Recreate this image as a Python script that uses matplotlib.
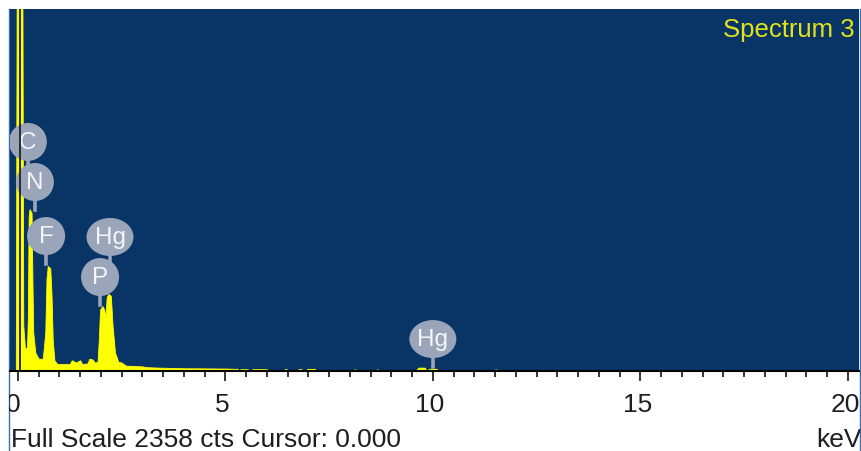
import matplotlib
matplotlib.use("Agg")
import matplotlib.pyplot as plt
from matplotlib.patches import Ellipse
from matplotlib.lines import Line2D
from matplotlib import transforms

plt.rcParams['font.family'] = ['Liberation Sans', 'DejaVu Sans']

# spectrum (keV, counts)
energy = [-0.2, -0.05, -0.03, 0.11, 0.13, 0.17, 0.22, 0.24, 0.26, 0.28, 0.33, 0.35, 0.37,
          0.42, 0.5, 0.6, 0.66, 0.69, 0.72, 0.78, 0.81, 0.84, 0.88, 0.95, 1.0, 1.25,
          1.3, 1.4, 1.5, 1.55, 1.68, 1.72, 1.8, 1.85, 1.92, 1.95, 1.98, 2.04, 2.08,
          2.11, 2.14, 2.18, 2.24, 2.28, 2.34, 2.42, 2.5, 2.6, 3.0, 3.1, 3.4, 4.0,
          5.0, 5.3, 5.32,
          5.35, 5.36, 5.54, 5.55, 5.64, 5.65, 6.0, 6.01, 6.42, 6.43, 6.48, 6.49,
          6.75, 6.76, 6.84, 6.85, 6.96, 6.97, 7.16, 7.17, 8.08, 8.1, 8.14, 8.16,
          8.62, 8.64, 8.68, 8.7, 9.58, 9.65, 9.8, 9.86, 9.88, 9.9, 10.1, 10.12,
          11.48, 11.5, 11.54, 11.56, 20.3]
counts = [0, 0, 2358, 2358, 300, 150, 150, 350, 1000, 1055, 1030, 600, 250,
          120, 80, 80, 250, 600, 684, 670, 500, 200, 70, 45, 45, 45,
          70, 55, 70, 45, 50, 80, 75, 55, 60, 200, 400, 423, 400,
          350, 480, 502, 490, 300, 120, 60, 55, 35, 30, 25, 22, 18,
          16, 14, 0,
          0, 12, 12, 0, 0, 12, 12, 0, 0, 12, 12, 0,
          0, 12, 12, 0, 0, 14, 14, 0, 0, 10, 10, 0,
          0, 10, 10, 0, 0, 22, 22, 0, 0, 14, 14, 0,
          0, 10, 10, 0, 0]

# element markers: label, energy, counts of bubble centre, bubble width (px)
peak_labels = ['C', 'N', 'F', 'Hg', 'P', 'Hg']
label_x = [0.24, 0.41, 0.68, 2.22, 1.98, 10.0]
label_y = [1492, 1231, 879, 873, 612, 208]
label_w = [38, 38, 38, 47, 38, 47]

tick_pos = [0, 5, 10, 15, 20]
tick_text = ['0', '5', '10', '15', '20']
tick_shift = [-0.12, -0.07, -0.07, -0.07, -0.07]
full_scale = 2358
cursor = 0.05

W, H = 861, 452
fig = plt.figure(figsize=(W / 100, H / 100), dpi=100)

# white panel with thin frame lines
panel = fig.add_axes([9 / W, 0, 851 / W, 442 / H])
panel.set_facecolor('white')
panel.set_xticks([])
panel.set_yticks([])
for s in ['top', 'bottom']:
    panel.spines[s].set_visible(False)
for s in ['left', 'right']:
    panel.spines[s].set_color('#3f6eae')
    panel.spines[s].set_linewidth(1)

ax = fig.add_axes([10 / W, 80 / H, 849 / W, 362 / H])
ax.set_facecolor('#083566')
ax.set_xlim(-0.19, 20.27)
ax.set_ylim(0, full_scale)
for s in ['top', 'left', 'right']:
    ax.spines[s].set_visible(False)
ax.spines['bottom'].set_color('black')
ax.spines['bottom'].set_linewidth(1.5)
ax.set_yticks([])
ax.set_xticks(tick_pos)
ax.set_xticks([x * 0.5 for x in range(41)], minor=True)
ax.tick_params(axis='x', which='major', length=7.5, width=1.1, color='black', labelbottom=False)
ax.tick_params(axis='x', which='minor', length=4.5, width=1.1, color='black')

ax.fill_between(energy, counts, color='#ffff00', lw=0.6, edgecolor='#ffff00', zorder=2)

# bubbles
for lab, x, y, w in zip(peak_labels, label_x, label_y, label_w):
    tr = fig.dpi_scale_trans + transforms.ScaledTranslation(x, y, ax.transData)
    stem = Line2D([0, 0], [0, -0.28], transform=tr, color='#9ba5b9', lw=2.6, zorder=3)
    ax.add_line(stem)
    ax.add_patch(Ellipse((0, 0), w / 100, 0.38, transform=tr, facecolor='#9ba5b9',
                         edgecolor='none', zorder=4))
    ax.text(x, y, lab, ha='center', va='center', fontsize=17.5, color='#f4f5f8', zorder=5)

ax.axvline(cursor, color='#2b2b2b', lw=1.4, zorder=6)

# tick labels, clipped to the panel
blend = transforms.blended_transform_factory(ax.transData, panel.transAxes)
for x, t, dx in zip(tick_pos, tick_text, tick_shift):
    panel.text(x + dx, (452 - 412) / 442, t, transform=blend, ha='center',
               va='baseline', fontsize=19, color='#1e1e1e', clip_on=True)

panel.text(2 / 851, (452 - 447) / 442, 'Full Scale %d cts Cursor: 0.000' % full_scale,
           transform=panel.transAxes, ha='left', va='baseline', fontsize=19,
           color='#1e1e1e', clip_on=True)
panel.text(853 / 851, (452 - 447) / 442, 'keV', transform=panel.transAxes, ha='right',
           va='baseline', fontsize=19, color='#1e1e1e', clip_on=True)

fig.text(855 / W, (452 - 37) / H, 'Spectrum 3', ha='right', va='baseline',
         fontsize=18.5, color='#e2e21c')

fig.savefig('out.png', dpi=100)
